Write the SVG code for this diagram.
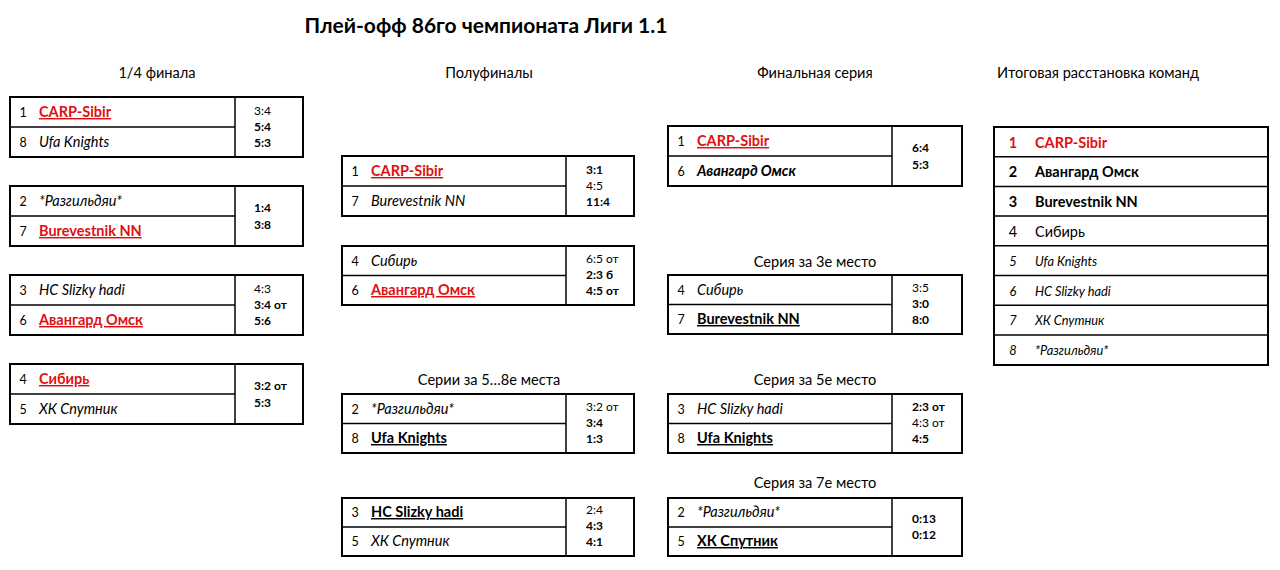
<svg xmlns="http://www.w3.org/2000/svg" width="1280" height="570" viewBox="0 0 1280 570">
<style>
text{font-family:Lato,"Noto Sans",sans-serif;fill:#000}
.title{font-size:21px;font-weight:bold;text-anchor:middle}
.hdr{font-size:14.6px;text-anchor:middle}
.box{fill:#fff;stroke:#000;stroke-width:2}
.in{stroke:#000;stroke-width:1.5}
.seed{font-size:12.5px;text-anchor:middle}
.nm{font-size:14.5px}
.red{fill:#e01010;font-weight:bold;text-decoration:underline}
.wb{font-weight:bold;text-decoration:underline}
.it{font-style:italic}
.bi{font-weight:bold;font-style:italic}
.sc{font-size:12px}
.b{font-weight:bold}
.st{font-size:14.5px}
.st2{font-size:12.8px;font-style:italic}
</style>
<rect width="1280" height="570" fill="#fff"/>
<text class="title" x="486" y="33">Плей-офф 86го чемпионата Лиги 1.1</text>
<text class="hdr" x="157" y="78">1/4 финала</text>
<text class="hdr" x="489" y="78">Полуфиналы</text>
<text class="hdr" x="815" y="78">Финальная серия</text>
<text class="hdr" x="1098" y="78">Итоговая расстановка команд</text>
<text class="hdr" x="815" y="267">Серия за 3е место</text>
<text class="hdr" x="489" y="385">Серии за 5…8е места</text>
<text class="hdr" x="815" y="385">Серия за 5е место</text>
<text class="hdr" x="815" y="488">Серия за 7е место</text>

<g id="qf1">
<rect class="box" x="10" y="97" width="293" height="60"/>
<line class="in" x1="235" y1="97" x2="235" y2="157"/>
<line class="in" x1="10" y1="127" x2="235" y2="127"/>
<text class="seed" x="23" y="117">1</text><text class="nm red" x="39" y="117">CARP-Sibir</text>
<text class="seed" x="23" y="147">8</text><text class="nm it" x="39" y="147">Ufa Knights</text>
<text class="sc" x="254" y="115">3:4</text><text class="sc b" x="254" y="131">5:4</text><text class="sc b" x="254" y="147">5:3</text>
</g>
<g id="qf2">
<rect class="box" x="10" y="186" width="293" height="60"/>
<line class="in" x1="235" y1="186" x2="235" y2="246"/>
<line class="in" x1="10" y1="216" x2="235" y2="216"/>
<text class="seed" x="23" y="206">2</text><text class="nm it" x="39" y="206">*Разгильдяи*</text>
<text class="seed" x="23" y="236">7</text><text class="nm red" x="39" y="236">Burevestnik NN</text>
<text class="sc b" x="254" y="211.5">1:4</text><text class="sc b" x="254" y="228.5">3:8</text>
</g>
<g id="qf3">
<rect class="box" x="10" y="275" width="293" height="60"/>
<line class="in" x1="235" y1="275" x2="235" y2="335"/>
<line class="in" x1="10" y1="305" x2="235" y2="305"/>
<text class="seed" x="23" y="295">3</text><text class="nm it" x="39" y="295">HC Slizky hadi</text>
<text class="seed" x="23" y="325">6</text><text class="nm red" x="39" y="325">Авангард Омск</text>
<text class="sc" x="254" y="293">4:3</text><text class="sc b" x="254" y="309">3:4 от</text><text class="sc b" x="254" y="325">5:6</text>
</g>
<g id="qf4">
<rect class="box" x="10" y="364" width="293" height="60"/>
<line class="in" x1="235" y1="364" x2="235" y2="424"/>
<line class="in" x1="10" y1="394" x2="235" y2="394"/>
<text class="seed" x="23" y="384">4</text><text class="nm red" x="39" y="384">Сибирь</text>
<text class="seed" x="23" y="414">5</text><text class="nm it" x="39" y="414">ХК Спутник</text>
<text class="sc b" x="254" y="389.5">3:2 от</text><text class="sc b" x="254" y="406.5">5:3</text>
</g>

<g id="sf1">
<rect class="box" x="342" y="156" width="292" height="60"/>
<line class="in" x1="566" y1="156" x2="566" y2="216"/>
<line class="in" x1="342" y1="186" x2="566" y2="186"/>
<text class="seed" x="355" y="176">1</text><text class="nm red" x="371" y="176">CARP-Sibir</text>
<text class="seed" x="355" y="206">7</text><text class="nm it" x="371" y="206">Burevestnik NN</text>
<text class="sc b" x="586" y="174">3:1</text><text class="sc" x="586" y="190">4:5</text><text class="sc b" x="586" y="206">11:4</text>
</g>
<g id="sf2">
<rect class="box" x="342" y="246" width="292" height="59"/>
<line class="in" x1="566" y1="246" x2="566" y2="305"/>
<line class="in" x1="342" y1="275.5" x2="566" y2="275.5"/>
<text class="seed" x="355" y="266">4</text><text class="nm it" x="371" y="266">Сибирь</text>
<text class="seed" x="355" y="295">6</text><text class="nm red" x="371" y="295">Авангард Омск</text>
<text class="sc" x="586" y="263">6:5 от</text><text class="sc b" x="586" y="279">2:3 б</text><text class="sc b" x="586" y="295">4:5 от</text>
</g>
<g id="cl1">
<rect class="box" x="342" y="394" width="292" height="59"/>
<line class="in" x1="566" y1="394" x2="566" y2="453"/>
<line class="in" x1="342" y1="423.5" x2="566" y2="423.5"/>
<text class="seed" x="355" y="414">2</text><text class="nm it" x="371" y="414">*Разгильдяи*</text>
<text class="seed" x="355" y="443">8</text><text class="nm wb" x="371" y="443">Ufa Knights</text>
<text class="sc" x="586" y="411">3:2 от</text><text class="sc b" x="586" y="427">3:4</text><text class="sc b" x="586" y="443">1:3</text>
</g>
<g id="cl2">
<rect class="box" x="342" y="498" width="292" height="58"/>
<line class="in" x1="566" y1="498" x2="566" y2="556"/>
<line class="in" x1="342" y1="527" x2="566" y2="527"/>
<text class="seed" x="355" y="517">3</text><text class="nm wb" x="371" y="517">HC Slizky hadi</text>
<text class="seed" x="355" y="546">5</text><text class="nm it" x="371" y="546">ХК Спутник</text>
<text class="sc" x="586" y="514">2:4</text><text class="sc b" x="586" y="530">4:3</text><text class="sc b" x="586" y="546">4:1</text>
</g>

<g id="final">
<rect class="box" x="668" y="126" width="294" height="60"/>
<line class="in" x1="892" y1="126" x2="892" y2="186"/>
<line class="in" x1="668" y1="156" x2="892" y2="156"/>
<text class="seed" x="681" y="146">1</text><text class="nm red" x="697" y="146">CARP-Sibir</text>
<text class="seed" x="681" y="176">6</text><text class="nm bi" x="697" y="176">Авангард Омск</text>
<text class="sc b" x="912" y="152">6:4</text><text class="sc b" x="912" y="168.5">5:3</text>
</g>
<g id="third">
<rect class="box" x="668" y="275" width="294" height="59"/>
<line class="in" x1="892" y1="275" x2="892" y2="334"/>
<line class="in" x1="668" y1="304.5" x2="892" y2="304.5"/>
<text class="seed" x="681" y="295">4</text><text class="nm it" x="697" y="295">Сибирь</text>
<text class="seed" x="681" y="324">7</text><text class="nm wb" x="697" y="324">Burevestnik NN</text>
<text class="sc" x="912" y="292">3:5</text><text class="sc b" x="912" y="308">3:0</text><text class="sc b" x="912" y="324">8:0</text>
</g>
<g id="fifth">
<rect class="box" x="668" y="394" width="294" height="59"/>
<line class="in" x1="892" y1="394" x2="892" y2="453"/>
<line class="in" x1="668" y1="423.5" x2="892" y2="423.5"/>
<text class="seed" x="681" y="414">3</text><text class="nm it" x="697" y="414">HC Slizky hadi</text>
<text class="seed" x="681" y="443">8</text><text class="nm wb" x="697" y="443">Ufa Knights</text>
<text class="sc b" x="912" y="411">2:3 от</text><text class="sc" x="912" y="427">4:3 от</text><text class="sc b" x="912" y="443">4:5</text>
</g>
<g id="seventh">
<rect class="box" x="668" y="498" width="294" height="58"/>
<line class="in" x1="892" y1="498" x2="892" y2="556"/>
<line class="in" x1="668" y1="527" x2="892" y2="527"/>
<text class="seed" x="681" y="517">2</text><text class="nm it" x="697" y="517">*Разгильдяи*</text>
<text class="seed" x="681" y="546">5</text><text class="nm wb" x="697" y="546">ХК Спутник</text>
<text class="sc b" x="912" y="522.5">0:13</text><text class="sc b" x="912" y="539">0:12</text>
</g>

<g id="standings">
<rect class="box" x="994" y="127" width="274" height="238"/>
<line class="in" x1="994" y1="156.7" x2="1268" y2="156.7"/>
<line class="in" x1="994" y1="186.4" x2="1268" y2="186.4"/>
<line class="in" x1="994" y1="216.1" x2="1268" y2="216.1"/>
<line class="in" x1="994" y1="245.8" x2="1268" y2="245.8"/>
<line class="in" x1="994" y1="275.5" x2="1268" y2="275.5"/>
<line class="in" x1="994" y1="305.2" x2="1268" y2="305.2"/>
<line class="in" x1="994" y1="334.9" x2="1268" y2="334.9"/>
<text class="st b" x="1013" y="147.5" text-anchor="middle" style="fill:#e01010">1</text><text class="st b" x="1035" y="147.5" style="fill:#e01010">CARP-Sibir</text>
<text class="st b" x="1013" y="177" text-anchor="middle">2</text><text class="st b" x="1035" y="177">Авангард Омск</text>
<text class="st b" x="1013" y="207" text-anchor="middle">3</text><text class="st b" x="1035" y="207">Burevestnik NN</text>
<text class="st" x="1013" y="236.5" text-anchor="middle">4</text><text class="st" x="1035" y="236.5">Сибирь</text>
<text class="st2" x="1013" y="266" text-anchor="middle">5</text><text class="st2" x="1035" y="266">Ufa Knights</text>
<text class="st2" x="1013" y="295.5" text-anchor="middle">6</text><text class="st2" x="1035" y="295.5">HC Slizky hadi</text>
<text class="st2" x="1013" y="325" text-anchor="middle">7</text><text class="st2" x="1035" y="325">ХК Спутник</text>
<text class="st2" x="1013" y="355" text-anchor="middle">8</text><text class="st2" x="1035" y="355">*Разгильдяи*</text>
</g>
</svg>
